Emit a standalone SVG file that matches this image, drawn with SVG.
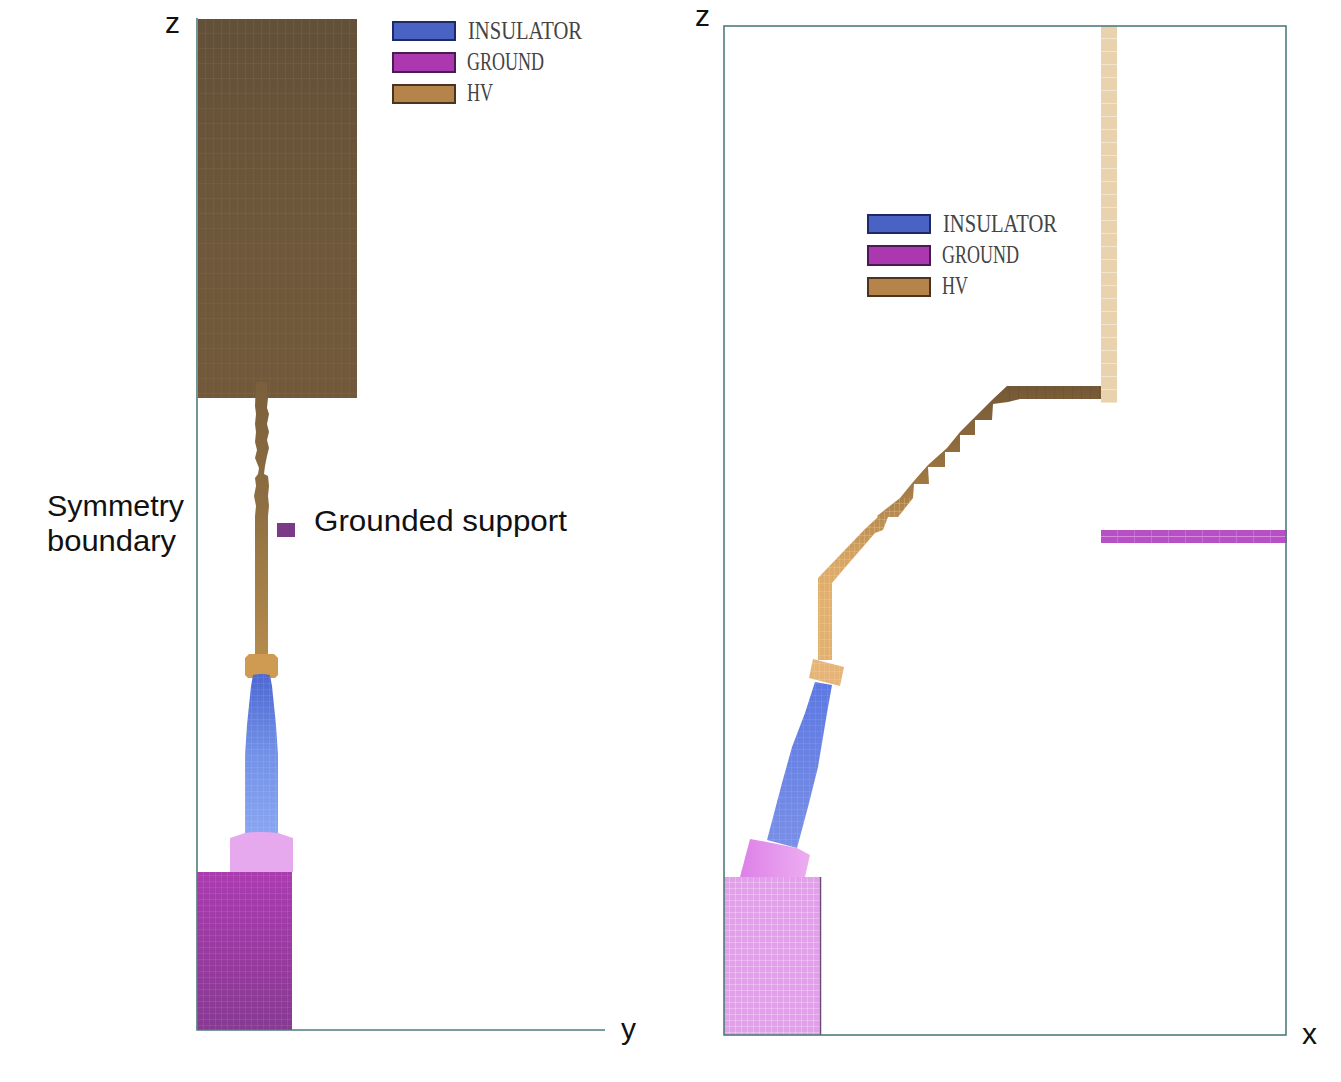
<svg xmlns="http://www.w3.org/2000/svg" width="1341" height="1082" viewBox="0 0 1341 1082">
<style>
.lbl{font-family:"Liberation Sans",Arial,sans-serif;font-size:30px;fill:#111}
.leg{font-family:"Liberation Serif","Times New Roman",serif;font-size:26px;fill:#444}
.axis{fill:none;stroke:#4f7c7c;stroke-width:1.6}
.sw{stroke-width:2}
</style>
<defs>
<pattern id="gridDark" patternUnits="userSpaceOnUse" width="8" height="15" x="198" y="19"><path d="M8 0V15M0 15H8" fill="none" stroke="#927a58" stroke-width="1" stroke-opacity=".35"/></pattern>
<pattern id="gridFine" patternUnits="userSpaceOnUse" width="6" height="6"><path d="M6 0V6M0 6H6" fill="none" stroke="#fff" stroke-width="1" stroke-opacity=".15"/></pattern>
<pattern id="gridPink" patternUnits="userSpaceOnUse" width="6" height="6" x="724" y="877"><path d="M6 0V6M0 6H6" fill="none" stroke="#fff" stroke-width="1" stroke-opacity=".5"/></pattern>
<pattern id="gridTan" patternUnits="userSpaceOnUse" width="5" height="8"><path d="M5 0V8M0 8H5" fill="none" stroke="#f3d9a8" stroke-width="1" stroke-opacity=".5"/></pattern>
<pattern id="gridCream" patternUnits="userSpaceOnUse" width="16" height="13" x="1101" y="26"><path d="M0 13H16" fill="none" stroke="#fff" stroke-width="1" stroke-opacity=".8"/></pattern>
<pattern id="gridBar" patternUnits="userSpaceOnUse" width="17" height="13" x="1101" y="530"><path d="M17 0V13" fill="none" stroke="#e6a4ee" stroke-width="1" stroke-opacity=".7"/></pattern>
<pattern id="gridArm" patternUnits="userSpaceOnUse" width="9" height="13" x="1010" y="386"><path d="M9 0V13" fill="none" stroke="#5e4629" stroke-width="1" stroke-opacity=".6"/></pattern>
<linearGradient id="blockL" x1="0" y1="0" x2="0" y2="1"><stop offset="0" stop-color="#635038"/><stop offset=".5" stop-color="#6d573a"/><stop offset="1" stop-color="#72593a"/></linearGradient>
<linearGradient id="stemL" gradientUnits="userSpaceOnUse" x1="0" y1="382" x2="0" y2="655"><stop offset="0" stop-color="#7a5f3c"/><stop offset=".45" stop-color="#8e6f42"/><stop offset="1" stop-color="#b58a4c"/></linearGradient>
<linearGradient id="insL" x1="0" y1="0" x2="0" y2="1"><stop offset="0" stop-color="#4e68d0"/><stop offset=".5" stop-color="#7391e6"/><stop offset="1" stop-color="#8aa6f0"/></linearGradient>
<linearGradient id="insR" x1="0" y1="0" x2="0" y2="1"><stop offset="0" stop-color="#5d78e0"/><stop offset="1" stop-color="#7a90e6"/></linearGradient>
<linearGradient id="groundL" x1="0" y1="0" x2="0" y2="1"><stop offset="0" stop-color="#ab3cb0"/><stop offset="1" stop-color="#873a92"/></linearGradient>
<linearGradient id="capR" x1="0" y1="0" x2="1" y2="0"><stop offset="0" stop-color="#dd80e8"/><stop offset="1" stop-color="#ecaef0"/></linearGradient>
<linearGradient id="armR" gradientUnits="userSpaceOnUse" x1="0" y1="386" x2="0" y2="600"><stop offset="0" stop-color="#745836"/><stop offset=".45" stop-color="#a07842"/><stop offset=".85" stop-color="#dca968"/><stop offset="1" stop-color="#e2b070"/></linearGradient>
</defs>

<g id="left-view">
<rect x="198" y="19" width="159" height="379" fill="url(#blockL)"/>
<rect x="198" y="19" width="159" height="379" fill="url(#gridDark)"/>
<path id="left-stem" d="M256 382H267L268 398L267 408L269 414L267 424L269 432L267 440L269 448L267 456L265 466L264 474L268 476L269 486L268 496L269 506L268 516V655H255V516L256 506L254 496L256 486L255 478L258 474L259 468L255 458L257 450L255 442L256 432L255 424L256 414L255 406Z" fill="url(#stemL)"/>
<path id="left-collar" d="M249 654H274L278 658V675L275 678H248L245 675V658Z" fill="#cf9a52"/>
<path id="left-insulator" d="M253 675Q261 673 270 675L272 686L276 725L278 755V833H245V755L247 725L251 686Z" fill="url(#insL)"/>
<path d="M253 675Q261 673 270 675L272 686L276 725L278 755V833H245V755L247 725L251 686Z" fill="url(#gridFine)"/>
<path id="left-ground-cap" d="M245 833Q261 831 278 833L293 838V872H230V838Z" fill="#e7a9ee"/>
<rect id="left-ground" x="197" y="872" width="95" height="158" fill="url(#groundL)"/>
<rect x="197" y="872" width="95" height="158" fill="url(#gridFine)"/>
<rect id="left-support" x="277" y="523" width="18" height="14" fill="#7a3a88"/>
<path class="axis" d="M197 18V1030H605"/>
<text class="lbl" x="165" y="33">z</text>
<text class="lbl" x="621" y="1039">y</text>
<text class="lbl" x="47" y="516" textLength="137" lengthAdjust="spacingAndGlyphs">Symmetry</text>
<text class="lbl" x="47" y="551" textLength="129" lengthAdjust="spacingAndGlyphs">boundary</text>
<text class="lbl" x="314" y="531" textLength="253" lengthAdjust="spacingAndGlyphs">Grounded support</text>
</g>

<g id="left-legend">
<rect class="sw" x="393" y="22" width="62" height="18" fill="#4a62c4" stroke="#1d2a66"/>
<rect class="sw" x="393" y="53" width="62" height="19" fill="#ac38b0" stroke="#4a1a52"/>
<rect class="sw" x="393" y="85" width="62" height="18" fill="#b5844a" stroke="#4a3420"/>
<text class="leg" x="468" y="39" textLength="114" lengthAdjust="spacingAndGlyphs">INSULATOR</text>
<text class="leg" x="467" y="70" textLength="77" lengthAdjust="spacingAndGlyphs">GROUND</text>
<text class="leg" x="467" y="101" textLength="26" lengthAdjust="spacingAndGlyphs">HV</text>
</g>

<g id="right-view">
<rect id="right-bar" x="1101" y="26" width="16" height="377" fill="#e9d3ae"/>
<rect x="1101" y="26" width="16" height="377" fill="url(#gridCream)"/>
<path id="right-arm" d="M1101 386V399H1020L1008 402L993 404L992 420L975 420L975 435L960 435L960 452L945 452L945 467L928 467L929 484L914 484L913 498L898 517L888 517L883 530L875 533L843 570L832 583V660H818V578L865 529L878 517L877 516L900 498L913 482L928 465L947 448L960 432L977 415L992 400L1007 386Z" fill="url(#armR)"/>
<path d="M1101 386V399H1020L1008 402V386Z" fill="url(#gridArm)"/>
<path d="M832 583V660H818V578L865 529L878 517L900 498L913 498L898 517L888 517L883 530L875 533L843 570Z" fill="url(#gridTan)"/>
<path id="right-collar" d="M813 659L844 667L840 686L809 678Z" fill="#e6b478"/>
<path d="M813 659L844 667L840 686L809 678Z" fill="url(#gridTan)"/>
<path id="right-insulator" d="M815 682L832 685L827 713L818 767L808 807L797 848L767 840L782 783L792 747L805 713Z" fill="url(#insR)"/>
<path d="M815 682L832 685L827 713L818 767L808 807L797 848L767 840L782 783L792 747L805 713Z" fill="url(#gridFine)"/>
<path id="right-ground-cap" d="M750 839L767 842L797 848L810 855L805 877H740Z" fill="url(#capR)"/>
<rect id="right-ground" x="724" y="877" width="96" height="158" fill="#e2a0ea"/>
<rect x="724" y="877" width="96" height="158" fill="url(#gridPink)"/>
<path d="M820.500 877V1035" fill="none" stroke="#6a4a78" stroke-width="1.500"/>
<rect id="right-support" x="1101" y="530" width="186" height="13" fill="#b650c4"/>
<rect x="1101" y="530" width="186" height="13" fill="url(#gridBar)"/>
<path d="M1101 536.500H1287" stroke="#d68ae0" stroke-width="1" fill="none"/>
<rect class="axis" x="724" y="26" width="562" height="1009"/>
<text class="lbl" x="695" y="26">z</text>
<text class="lbl" x="1302" y="1044">x</text>
</g>

<g id="right-legend">
<rect class="sw" x="868" y="215" width="62" height="18" fill="#4a62c4" stroke="#1d2a66"/>
<rect class="sw" x="868" y="246" width="62" height="19" fill="#ac38b0" stroke="#4a1a52"/>
<rect class="sw" x="868" y="278" width="62" height="18" fill="#b5844a" stroke="#4a3420"/>
<text class="leg" x="943" y="232" textLength="114" lengthAdjust="spacingAndGlyphs">INSULATOR</text>
<text class="leg" x="942" y="263" textLength="77" lengthAdjust="spacingAndGlyphs">GROUND</text>
<text class="leg" x="942" y="294" textLength="26" lengthAdjust="spacingAndGlyphs">HV</text>
</g>
</svg>
